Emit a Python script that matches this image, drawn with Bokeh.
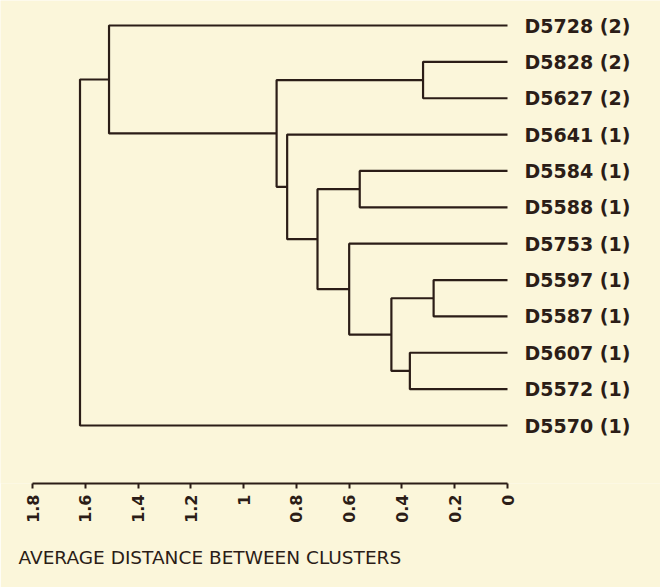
import numpy as np
from bokeh.plotting import figure
from bokeh.models import Range1d, FixedTicker, Title, ColumnDataSource
from bokeh.core.properties import value
from bokeh.embed import file_html
from bokeh.resources import INLINE

# Leaves, top to bottom
leaves = ["D5728 (2)", "D5828 (2)", "D5627 (2)", "D5641 (1)", "D5584 (1)",
          "D5588 (1)", "D5753 (1)", "D5597 (1)", "D5587 (1)", "D5607 (1)",
          "D5572 (1)", "D5570 (1)"]

# Merges (scipy-like): ids 0..11 leaves, 12.. clusters
merge_left = [7, 1, 9, 12, 4, 6, 16, 3, 13, 0, 21]
merge_right = [8, 2, 10, 14, 5, 15, 17, 18, 19, 20, 11]
merge_height = [0.28, 0.32, 0.37, 0.44, 0.56, 0.60, 0.72, 0.835, 0.875, 1.51, 1.62]

tick_values = [1.8, 1.6, 1.4, 1.2, 1.0, 0.8, 0.6, 0.4, 0.2, 0.0]
tick_labels = ["1.8", "1.6", "1.4", "1.2", "1", "0.8", "0.6", "0.4", "0.2", "0"]

axis_title = "AVERAGE DISTANCE BETWEEN CLUSTERS"

INK = "#2b1d17"
BG = "#fbf6da"

n = len(leaves)
node_x = [0.0] * n
node_y = [float(i) for i in range(n)]
xs, ys = [], []
for a, b, h in zip(merge_left, merge_right, merge_height):
    xs.append([node_x[a], h, h, node_x[b]])
    ys.append([node_y[a], node_y[a], node_y[b], node_y[b]])
    node_x.append(h)
    node_y.append((node_y[a] + node_y[b]) / 2.0)

p = figure(width=660, height=587, output_backend="svg", toolbar_location=None,
           x_range=Range1d(1.9213, -0.5798), y_range=Range1d(12.595, -0.6875),
           y_axis_location=None, min_border=0, min_border_bottom=104)
p.background_fill_color = BG
p.border_fill_color = BG
p.outline_line_color = None
p.xgrid.visible = False
p.ygrid.visible = False

p.multi_line(xs=xs, ys=ys, line_color=INK, line_width=2.2)

src = ColumnDataSource(dict(x=[0.0] * n, y=list(range(n)), t=leaves))
p.text(x="x", y="y", text="t", source=src, x_offset=17, text_baseline="middle",
       text_align="left", text_font=value("DejaVu Sans"), text_font_style="bold",
       text_font_size="19px", text_color=INK)

ax = p.xaxis[0]
ax.ticker = FixedTicker(ticks=tick_values)
ax.major_label_overrides = {v: s for v, s in zip(tick_values, tick_labels)}
ax.bounds = (0, 1.8)
ax.axis_line_color = INK
ax.axis_line_width = 2
ax.major_tick_line_color = INK
ax.major_tick_line_width = 2
ax.major_tick_out = 5
ax.major_tick_in = 0
ax.minor_tick_line_color = None
ax.major_label_orientation = np.pi / 2
ax.major_label_text_font = "DejaVu Sans"
ax.major_label_text_font_style = "bold"
ax.major_label_text_font_size = "16px"
ax.major_label_text_color = INK
ax.major_label_standoff = 6

t = Title(text=axis_title, align="left", offset=18, text_font="DejaVu Sans",
          text_font_style="normal", text_font_size="18.5px", text_color=INK,
          standoff=38)
p.add_layout(t, "below")

open("out.html", "w").write(file_html(p, INLINE))
